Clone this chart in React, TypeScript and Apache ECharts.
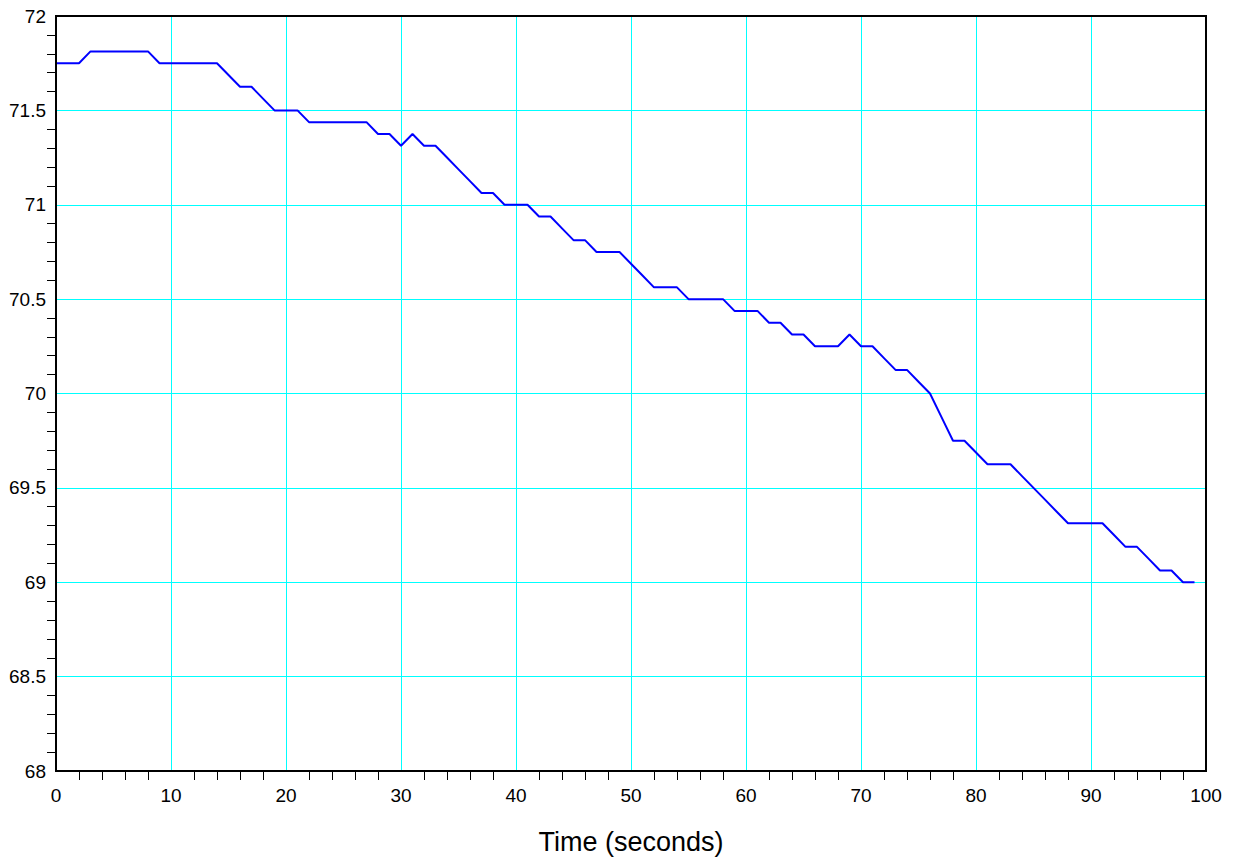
import React, { useEffect, useRef } from "react";
import * as echarts from "echarts";

const timeSeconds: number[] = Array.from({ length: 100 }, (_, i) => i);
const temperature: number[] = [
  71.75, 71.75, 71.75, 71.8125, 71.8125, 71.8125, 71.8125, 71.8125, 71.8125, 71.75,
  71.75, 71.75, 71.75, 71.75, 71.75, 71.6875, 71.625, 71.625, 71.5625, 71.5,
  71.5, 71.5, 71.4375, 71.4375, 71.4375, 71.4375, 71.4375, 71.4375, 71.375, 71.375,
  71.3125, 71.375, 71.3125, 71.3125, 71.25, 71.1875, 71.125, 71.0625, 71.0625, 71.0,
  71.0, 71.0, 70.9375, 70.9375, 70.875, 70.8125, 70.8125, 70.75, 70.75, 70.75,
  70.6875, 70.625, 70.5625, 70.5625, 70.5625, 70.5, 70.5, 70.5, 70.5, 70.4375,
  70.4375, 70.4375, 70.375, 70.375, 70.3125, 70.3125, 70.25, 70.25, 70.25, 70.3125,
  70.25, 70.25, 70.1875, 70.125, 70.125, 70.0625, 70.0, 69.875, 69.75, 69.75,
  69.6875, 69.625, 69.625, 69.625, 69.5625, 69.5, 69.4375, 69.375, 69.3125, 69.3125,
  69.3125, 69.3125, 69.25, 69.1875, 69.1875, 69.125, 69.0625, 69.0625, 69.0, 69.0,
];
const xAxisTitle = "Time (seconds)";

export default function App() {
  const ref = useRef<HTMLDivElement>(null);
  useEffect(() => {
    if (!ref.current) return;
    const chart = echarts.init(ref.current, undefined, { renderer: "svg" });
    const font = "'Liberation Sans', Arial, Helvetica, sans-serif";
    chart.setOption({
      animation: false,
      backgroundColor: "#ffffff",
      grid: {
        left: 56,
        top: 16,
        right: 29,
        bottom: 87,
        containLabel: false,
        outerBoundsMode: "none",
        show: true,
        borderColor: "#000000",
        borderWidth: 2,
        backgroundColor: "transparent",
        z: 10,
      },
      xAxis: {
        type: "value",
        min: 0,
        max: 100,
        interval: 10,
        name: xAxisTitle,
        nameLocation: "middle",
        nameGap: 57,
        nameTextStyle: { fontFamily: font, fontSize: 27, color: "#000" },
        axisLine: { show: true, lineStyle: { color: "#000", width: 2 } },
        axisTick: { show: false },
        minorTick: { show: true, splitNumber: 5, length: 9, lineStyle: { color: "#000", width: 1 } },
        axisLabel: { fontFamily: font, fontSize: 19, color: "#000", margin: 15 },
        splitLine: { show: true, lineStyle: { color: "#00ffff", width: 1 } },
        minorSplitLine: { show: false },
      },
      yAxis: {
        type: "value",
        min: 68,
        max: 72,
        interval: 0.5,
        axisLine: { show: true, lineStyle: { color: "#000", width: 2 } },
        axisTick: { show: false },
        minorTick: { show: true, splitNumber: 5, length: 9, lineStyle: { color: "#000", width: 1 } },
        axisLabel: { fontFamily: font, fontSize: 19, color: "#000", margin: 10 },
        splitLine: { show: true, lineStyle: { color: "#00ffff", width: 1 } },
        minorSplitLine: { show: false },
      },
      series: [
        {
          type: "line",
          data: timeSeconds.map((t, i) => [t, temperature[i]]),
          showSymbol: false,
          symbol: "none",
          lineStyle: { color: "#0000ff", width: 2 },
          z: 5,
        },
      ],
    });
    return () => chart.dispose();
  }, []);
  return (
    <div
      ref={ref}
      style={{ position: "fixed", left: 0, top: 0, width: 1235, height: 858, background: "#fff" }}
    />
  );
}
